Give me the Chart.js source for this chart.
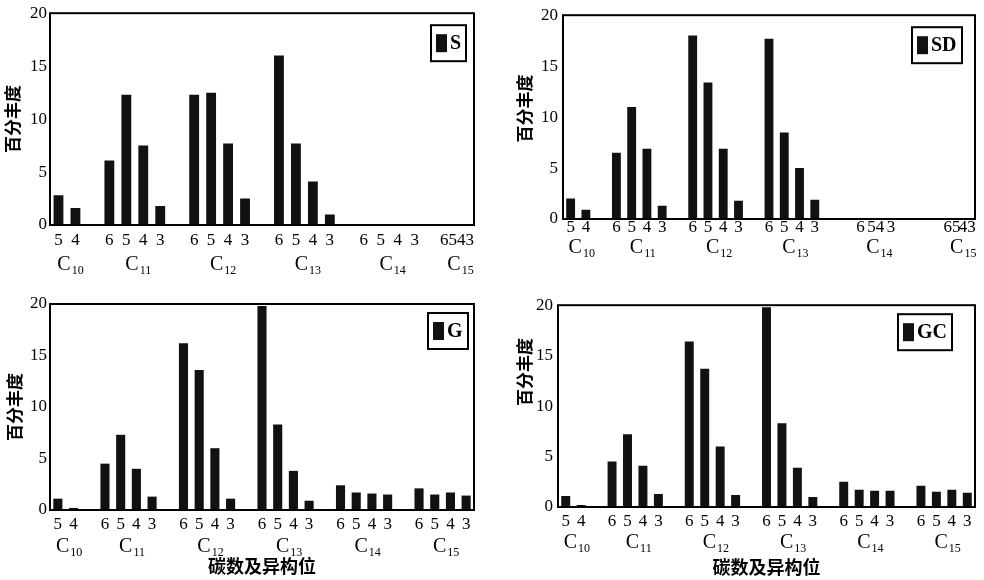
<!DOCTYPE html>
<html>
<head>
<meta charset="utf-8">
<script src="https://cdn.jsdelivr.net/npm/chart.js"></script>
<style>
  html, body { margin: 0; padding: 0; background: #fff; }
  #wrap { position: relative; width: 984px; height: 580px; }
  .panel { position: absolute; }
</style>
</head>
<body>
<div id="wrap">
  <div class="panel" style="left:0;top:0;width:490px;height:290px"><canvas id="cS"></canvas></div>
  <div class="panel" style="left:490px;top:0;width:494px;height:290px"><canvas id="cSD"></canvas></div>
  <div class="panel" style="left:0;top:290px;width:490px;height:290px"><canvas id="cG"></canvas></div>
  <div class="panel" style="left:490px;top:290px;width:494px;height:290px"><canvas id="cGC"></canvas></div>
</div>
<script>
// isomer position labels, one per bar slot ('' = gap between carbon numbers)
const isoS  = ['5','4','', '6','5','4','3','', '6','5','4','3','', '6','5','4','3','', '6','5','4','3','', '65','43'];
const isoSD = ['5','4','', '6','5','4','3','', '6','5','4','3','', '6','5','4','3','', '','6','54','3', '','','', '65','43'];
const isoG  = ['5','4','', '6','5','4','3','', '6','5','4','3','', '6','5','4','3','', '6','5','4','3','', '6','5','4','3'];

// carbon number each slot belongs to
const carbonS  = ['C10','C10','', 'C11','C11','C11','C11','', 'C12','C12','C12','C12','', 'C13','C13','C13','C13','', 'C14','C14','C14','C14','', 'C15','C15'];
const carbonSD = ['C10','C10','', 'C11','C11','C11','C11','', 'C12','C12','C12','C12','', 'C13','C13','C13','C13','', '','C14','C14','C14', '','','', 'C15','C15'];
const carbonG  = ['C10','C10','', 'C11','C11','C11','C11','', 'C12','C12','C12','C12','', 'C13','C13','C13','C13','', 'C14','C14','C14','C14','', 'C15','C15','C15','C15'];

// percentage abundance
const valS  = [2.8,1.6,null, 6.1,12.3,7.5,1.8,null, 12.3,12.5,7.7,2.5,null, 16.0,7.7,4.1,1.0,null, 0,0,0,0,null, 0,0];
const valSD = [2.0,0.9,null, 6.5,11.0,6.9,1.3,null, 18.0,13.4,6.9,1.8,null, 17.7,8.5,5.0,1.9,null, null,0,0,0, null,null,null, 0,0];
const valG  = [1.1,0.2,null, 4.5,7.3,4.0,1.3,null, 16.2,13.6,6.0,1.1,null, 19.8,8.3,3.8,0.9,null, 2.4,1.7,1.6,1.5,null, 2.1,1.5,1.7,1.4];
const valGC = [1.1,0.2,null, 4.5,7.2,4.1,1.3,null, 16.4,13.7,6.0,1.2,null, 19.8,8.3,3.9,1.0,null, 2.5,1.7,1.6,1.6,null, 2.1,1.5,1.7,1.4];

const yTitle = '百分丰度';
const xTitle = '碳数及异构位';

Chart.defaults.color = '#000';
const serif = '"Liberation Serif", "Times New Roman", serif';
const cjk = '"Noto Sans CJK SC", sans-serif';

// box around the plot
const frame = {
  id: 'frame',
  afterDraw(chart) {
    const { ctx, chartArea: a } = chart;
    ctx.save();
    ctx.strokeStyle = '#000';
    ctx.lineWidth = 2;
    ctx.strokeRect(a.left, a.top, a.right - a.left, a.bottom - a.top);
    ctx.restore();
  }
};

// C10, C11 ... under each group of bars
const carbonLabels = {
  id: 'carbonLabels',
  afterDraw(chart, args, opts) {
    const { ctx, scales: { x } } = chart;
    const pos = {};
    opts.groups.forEach((g, i) => {
      if (!g) return;
      (pos[g] = pos[g] || []).push(x.getPixelForTick(i));
    });
    ctx.save();
    ctx.fillStyle = '#000';
    ctx.textAlign = 'left';
    ctx.textBaseline = 'middle';
    Object.keys(pos).forEach(g => {
      const px = pos[g];
      const cx = (Math.min(...px) + Math.max(...px)) / 2 + 3;
      const main = g.slice(0, 1), sub = g.slice(1);
      ctx.font = '20px ' + serif;
      const w1 = ctx.measureText(main).width;
      ctx.font = '12px ' + serif;
      const w2 = ctx.measureText(sub).width;
      const x0 = cx - (w1 + w2) / 2;
      const y = x.top + opts.offset;
      ctx.font = '20px ' + serif;
      ctx.fillText(main, x0, y);
      ctx.font = '12px ' + serif;
      ctx.fillText(sub, x0 + w1 + 1, y + 6);
    });
    ctx.restore();
  }
};

// boxed legend in the top right corner
const boxLegend = {
  id: 'boxLegend',
  afterDraw(chart, args, o) {
    const { ctx, chartArea: a } = chart;
    const ds = chart.data.datasets[0];
    ctx.save();
    ctx.font = 'bold 20px ' + serif;
    const tw = ctx.measureText(ds.label).width;
    const w = Math.round(5 + 11 + 3 + tw + 5), h = 36;
    const bx = a.right - o.right - w, by = a.top + o.top;
    ctx.strokeStyle = '#000';
    ctx.lineWidth = 2;
    ctx.strokeRect(bx, by, w, h);
    ctx.fillStyle = ds.backgroundColor;
    ctx.fillRect(bx + 5, by + 9, 11, 18);
    ctx.fillStyle = '#000';
    ctx.textBaseline = 'middle';
    ctx.fillText(ds.label, bx + 19, by + h / 2 + 1);
    ctx.restore();
  }
};

function panel(id, name, labels, groups, values, L) {
  return new Chart(document.getElementById(id), {
    type: 'bar',
    data: {
      labels: labels,
      datasets: [{
        label: name,
        data: values,
        backgroundColor: '#111',
        barPercentage: 0.58,
        categoryPercentage: 1
      }]
    },
    options: {
      animation: false,
      responsive: true,
      maintainAspectRatio: false,
      devicePixelRatio: 1,
      layout: { padding: { left: 0, top: L.top, right: L.right, bottom: 0 } },
      plugins: {
        legend: { display: false },
        tooltip: { enabled: false },
        carbonLabels: { groups: groups, offset: L.cOff },
        boxLegend: { right: L.legR, top: L.legT }
      },
      scales: {
        x: {
          offset: true,
          grid: { display: false, drawTicks: false },
          border: { display: false },
          ticks: {
            autoSkip: false, maxRotation: 0, minRotation: 0,
            padding: L.xPad,
            font: { family: serif, size: 17, lineHeight: 1 }
          },
          title: {
            display: !!L.xTitle,
            text: xTitle,
            font: { family: cjk, size: 18, weight: 'bold' },
            padding: { top: 0, bottom: L.xTitlePad || 0 }
          },
          afterFit: s => { s.height = L.xH; }
        },
        y: {
          min: 0, max: 20,
          grid: { display: false, drawTicks: false },
          border: { display: false },
          ticks: {
            stepSize: 5,
            padding: L.yPad,
            font: { family: serif, size: 17 }
          },
          title: {
            display: true,
            text: L.yTitle,
            font: { family: cjk, size: 17, weight: 'bold' },
            padding: { top: L.yTitlePad, bottom: 0 }
          },
          afterFit: s => { s.width = L.yW; }
        }
      }
    },
    plugins: [frame, carbonLabels, boxLegend]
  });
}

panel('cS', 'S', isoS, carbonS, valS,
  { top: 12, right: 16, yW: 50, xH: 65, xPad: 7, yPad: 3, cOff: 40, legR: 8, legT: 12,
    yTitle: yTitle, yTitlePad: 2 });
panel('cSD', 'SD', isoSD, carbonSD, valSD,
  { top: 10, right: 9, yW: 73, xH: 71, xPad: 0, yPad: 5, cOff: 29, legR: 13, legT: 12,
    yTitle: '\u3000' + yTitle, yTitlePad: 24 });
panel('cG', 'G', isoG, carbonG, valG,
  { top: 14, right: 16, yW: 50, xH: 70, xPad: 6, yPad: 3, cOff: 37, legR: 6, legT: 9,
    yTitle: yTitle, yTitlePad: 4, xTitle: true, xTitlePad: 3 });
panel('cGC', 'GC', isoG, carbonG, valGC,
  { top: 12, right: 9, yW: 68, xH: 73, xPad: 6, yPad: 5, cOff: 36, legR: 23, legT: 9,
    yTitle: '\u3000\u3000\u3000\u3000' + yTitle, yTitlePad: 24, xTitle: true, xTitlePad: 2 });
</script>
</body>
</html>
